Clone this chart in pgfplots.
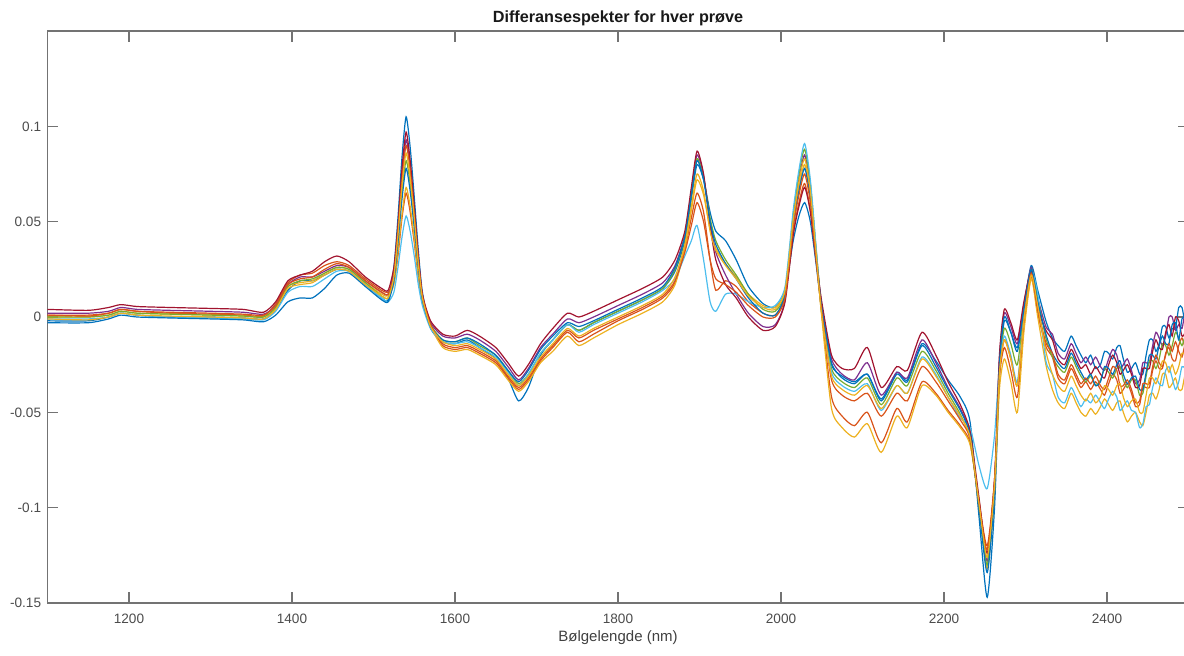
\documentclass[border=0pt]{standalone}
\usepackage{fontspec}
\setmainfont{Liberation Sans}
\usepackage{pgfplots}
\usepackage{pgfplotstable}
\pgfplotsset{compat=1.18}
\definecolor{mB}{rgb}{0,0.447,0.741}
\definecolor{mO}{rgb}{0.85,0.325,0.098}
\definecolor{mY}{rgb}{0.929,0.694,0.125}
\definecolor{mP}{rgb}{0.494,0.184,0.556}
\definecolor{mG}{rgb}{0.466,0.674,0.188}
\definecolor{mL}{rgb}{0.301,0.745,0.933}
\definecolor{mR}{rgb}{0.635,0.078,0.184}
\pgfplotstableread{
x s1 s2 s3 s4 s5 s6 s7 s8 s9 s10
1100 -0.002 0.001 0.000 0.002 0.000 -0.001 0.004 -0.003 0.001 -0.001
1150 -0.002 0.001 0.000 0.002 0.000 -0.001 0.0035 -0.003 0.0005 -0.0015
1175 0.000 0.002 0.001 0.003 0.001 0.000 0.005 -0.001 0.002 0.000
1190 0.002 0.004 0.003 0.005 0.003 0.002 0.0065 0.001 0.004 0.002
1210 0.001 0.003 0.002 0.004 0.002 0.001 0.0055 0.000 0.003 0.001
1250 0.000 0.002 0.0015 0.0035 0.0015 0.000 0.005 -0.0005 0.0025 0.0005
1300 0.000 0.0015 0.001 0.003 0.001 -0.0005 0.0045 -0.001 0.002 0.000
1340 -0.0005 0.001 0.0005 0.0025 0.0005 -0.001 0.004 -0.0015 0.0015 -0.0005
1365 -0.001 0.0005 0.000 0.0015 0.000 -0.0015 0.0025 -0.0025 0.001 -0.001
1380 0.004 0.007 0.005 0.006 0.005 0.003 0.008 0.001 0.006 0.004
1395 0.014 0.018 0.016 0.017 0.016 0.013 0.019 0.008 0.017 0.015
1410 0.019 0.022 0.018 0.021 0.019 0.016 0.022 0.010 0.020 0.017
1425 0.019 0.023 0.019 0.021 0.020 0.016 0.024 0.010 0.021 0.018
1440 0.022 0.027 0.023 0.024 0.023 0.020 0.029 0.015 0.025 0.022
1455 0.025 0.029 0.026 0.027 0.026 0.024 0.032 0.022 0.028 0.025
1470 0.024 0.027 0.025 0.026 0.025 0.024 0.029 0.023 0.026 0.024
1490 0.017 0.020 0.018 0.019 0.018 0.017 0.021 0.016 0.019 0.017
1510 0.010 0.014 0.012 0.013 0.011 0.010 0.015 0.009 0.013 0.011
1518 0.009 0.013 0.011 0.012 0.010 0.008 0.014 0.008 0.012 0.010
1525 0.026 0.018 0.017 0.023 0.020 0.013 0.026 0.019 0.022 0.021
1530 0.052 0.032 0.034 0.046 0.041 0.026 0.048 0.039 0.045 0.043
1535 0.084 0.052 0.054 0.074 0.066 0.042 0.078 0.062 0.072 0.069
1540 0.105 0.065 0.068 0.093 0.082 0.053 0.097 0.078 0.090 0.086
1545 0.089 0.055 0.058 0.079 0.070 0.045 0.082 0.066 0.077 0.073
1550 0.063 0.039 0.041 0.056 0.049 0.032 0.058 0.047 0.054 0.052
1555 0.035 0.021 0.022 0.031 0.027 0.017 0.032 0.026 0.030 0.028
1560 0.013 0.008 0.008 0.011 0.010 0.006 0.012 0.009 0.011 0.010
1570 -0.006 -0.004 -0.005 -0.003 -0.004 -0.006 -0.002 -0.005 -0.004 -0.005
1585 -0.013 -0.015 -0.016 -0.010 -0.012 -0.013 -0.009 -0.012 -0.014 -0.013
1600 -0.014 -0.017 -0.018 -0.011 -0.013 -0.014 -0.010 -0.013 -0.016 -0.015
1615 -0.012 -0.016 -0.017 -0.009 -0.011 -0.013 -0.007 -0.011 -0.015 -0.014
1630 -0.016 -0.019 -0.020 -0.012 -0.015 -0.016 -0.010 -0.014 -0.018 -0.017
1650 -0.022 -0.024 -0.025 -0.018 -0.020 -0.021 -0.016 -0.020 -0.023 -0.022
1665 -0.032 -0.032 -0.033 -0.026 -0.028 -0.029 -0.024 -0.028 -0.031 -0.030
1678 -0.044 -0.038 -0.039 -0.033 -0.035 -0.036 -0.031 -0.034 -0.037 -0.036
1690 -0.037 -0.033 -0.034 -0.027 -0.030 -0.030 -0.025 -0.028 -0.032 -0.031
1705 -0.020 -0.023 -0.024 -0.016 -0.019 -0.019 -0.014 -0.017 -0.022 -0.021
1720 -0.012 -0.016 -0.018 -0.009 -0.012 -0.012 -0.006 -0.010 -0.015 -0.014
1738 -0.004 -0.008 -0.010 -0.001 -0.004 -0.004 0.002 -0.003 -0.007 -0.006
1752 -0.007 -0.013 -0.015 -0.003 -0.007 -0.008 0.000 -0.005 -0.011 -0.010
1770 -0.003 -0.009 -0.011 0.000 -0.003 -0.004 0.003 -0.002 -0.007 -0.006
1800 0.003 -0.002 -0.004 0.006 0.003 0.002 0.009 0.004 -0.001 0.000
1830 0.009 0.004 0.002 0.012 0.009 0.008 0.015 0.010 0.005 0.006
1855 0.015 0.010 0.008 0.018 0.015 0.014 0.021 0.016 0.011 0.012
1870 0.024 0.018 0.017 0.027 0.025 0.020 0.030 0.026 0.019 0.021
1882 0.040 0.036 0.036 0.043 0.042 0.032 0.045 0.042 0.034 0.038
1890 0.062 0.052 0.056 0.066 0.064 0.040 0.068 0.064 0.048 0.058
1897 0.080 0.065 0.072 0.085 0.083 0.048 0.087 0.082 0.060 0.075
1905 0.072 0.055 0.064 0.074 0.073 0.030 0.075 0.072 0.050 0.066
1913 0.055 0.030 0.046 0.050 0.052 0.008 0.048 0.050 0.030 0.045
1920 0.045 0.014 0.036 0.034 0.040 0.003 0.030 0.038 0.020 0.035
1932 0.040 0.019 0.028 0.022 0.030 0.012 0.017 0.028 0.017 0.027
1945 0.030 0.016 0.021 0.012 0.022 0.012 0.010 0.020 0.013 0.020
1960 0.016 0.008 0.012 0.002 0.012 0.008 0.000 0.010 0.006 0.011
1978 0.007 0.002 0.006 -0.005 0.004 0.005 -0.007 0.002 0.000 0.005
1993 0.005 0.001 0.005 -0.004 0.003 0.006 -0.005 0.001 0.000 0.004
2005 0.014 0.011 0.014 0.009 0.013 0.016 0.008 0.012 0.010 0.014
2015 0.040 0.044 0.050 0.052 0.054 0.056 0.043 0.048 0.047 0.051
2022 0.053 0.060 0.068 0.072 0.075 0.077 0.058 0.066 0.064 0.071
2029 0.060 0.070 0.080 0.085 0.088 0.091 0.068 0.078 0.075 0.083
2036 0.050 0.056 0.064 0.068 0.070 0.072 0.055 0.062 0.060 0.066
2043 0.028 0.030 0.033 0.035 0.036 0.037 0.030 0.032 0.031 0.034
2050 0.004 0.002 0.000 0.006 0.004 0.002 0.008 0.005 0.003 0.001
2062 -0.025 -0.042 -0.048 -0.022 -0.027 -0.029 -0.020 -0.024 -0.033 -0.031
2075 -0.031 -0.052 -0.058 -0.030 -0.034 -0.036 -0.027 -0.032 -0.041 -0.038
2090 -0.034 -0.057 -0.063 -0.033 -0.037 -0.039 -0.027 -0.035 -0.044 -0.041
2106 -0.030 -0.050 -0.056 -0.024 -0.032 -0.035 -0.016 -0.030 -0.040 -0.036
2123 -0.043 -0.066 -0.071 -0.041 -0.046 -0.049 -0.037 -0.044 -0.052 -0.048
2142 -0.029 -0.048 -0.052 -0.029 -0.032 -0.036 -0.026 -0.030 -0.040 -0.036
2155 -0.033 -0.055 -0.058 -0.032 -0.036 -0.040 -0.028 -0.034 -0.044 -0.040
2173 -0.014 -0.034 -0.036 -0.012 -0.018 -0.021 -0.008 -0.015 -0.026 -0.022
2190 -0.023 -0.040 -0.041 -0.024 -0.028 -0.030 -0.020 -0.026 -0.034 -0.031
2205 -0.033 -0.049 -0.050 -0.037 -0.040 -0.042 -0.034 -0.038 -0.044 -0.042
2220 -0.042 -0.057 -0.058 -0.048 -0.051 -0.053 -0.046 -0.049 -0.054 -0.052
2232 -0.055 -0.066 -0.067 -0.061 -0.064 -0.058 -0.060 -0.062 -0.064 -0.063
2243 -0.105 -0.097 -0.096 -0.098 -0.100 -0.078 -0.095 -0.100 -0.098 -0.098
2253 -0.147 -0.120 -0.132 -0.128 -0.130 -0.090 -0.124 -0.134 -0.122 -0.126
2262 -0.100 -0.085 -0.092 -0.088 -0.090 -0.062 -0.085 -0.092 -0.086 -0.088
2268 -0.030 -0.032 -0.038 -0.022 -0.028 -0.025 -0.020 -0.025 -0.030 -0.030
2274 -0.002 -0.016 -0.022 0.002 -0.006 -0.010 0.004 0.000 -0.012 -0.012
2282 -0.008 -0.028 -0.034 -0.005 -0.014 -0.020 -0.003 -0.008 -0.022 -0.022
2290 -0.016 -0.042 -0.050 -0.014 -0.025 -0.034 -0.012 -0.018 -0.036 -0.036
2298 0.005 -0.005 -0.008 0.006 0.003 0.000 0.008 0.004 -0.002 -0.002
2307 0.027 0.021 0.020 0.026 0.025 0.024 0.024 0.025 0.023 0.022
2315 0.014 0.002 0.000 0.010 0.010 0.012 0.005 0.008 0.004 0.006
2325 -0.002 -0.0155 -0.025 -0.005 -0.011 -0.023 -0.007 -0.009 -0.0135 -0.018
2333 -0.011 -0.021 -0.038 -0.009 -0.021 -0.030 -0.012 -0.019 -0.019 -0.030
2340 -0.015 -0.032 -0.045 -0.019 -0.026 -0.042 -0.022 -0.024 -0.030 -0.036
2348 -0.018 -0.035 -0.048 -0.022 -0.029 -0.045 -0.025 -0.027 -0.033 -0.039
2356 -0.010 -0.027 -0.040 -0.014 -0.021 -0.037 -0.017 -0.019 -0.025 -0.031
2362 -0.015 -0.032 -0.045 -0.019 -0.026 -0.042 -0.022 -0.024 -0.030 -0.036
2368 -0.020 -0.037 -0.050 -0.024 -0.031 -0.047 -0.027 -0.029 -0.035 -0.041
2374 -0.024 -0.034 -0.052 -0.021 -0.034 -0.043 -0.025 -0.033 -0.032 -0.044
2380 -0.020 -0.038 -0.048 -0.025 -0.031 -0.045 -0.030 -0.030 -0.035 -0.040
2386 -0.027 -0.034 -0.051 -0.021 -0.036 -0.041 -0.026 -0.036 -0.031 -0.045
2392 -0.025 -0.038 -0.047 -0.026 -0.033 -0.045 -0.030 -0.034 -0.036 -0.042
2397 -0.018 -0.041 -0.043 -0.028 -0.027 -0.048 -0.032 -0.026 -0.038 -0.036
2402 -0.019 -0.035 -0.046 -0.022 -0.029 -0.043 -0.025 -0.027 -0.032 -0.038
2407 -0.022 -0.030 -0.049 -0.017 -0.032 -0.039 -0.020 -0.030 -0.026 -0.041
2412 -0.016 -0.033 -0.045 -0.020 -0.027 -0.042 -0.024 -0.025 -0.028 -0.036
2416 -0.015 -0.040 -0.044 -0.027 -0.026 -0.049 -0.030 -0.023 -0.036 -0.035
2420 -0.022 -0.038 -0.050 -0.025 -0.033 -0.047 -0.028 -0.030 -0.036 -0.042
2425 -0.029 -0.035 -0.055 -0.022 -0.037 -0.044 -0.025 -0.035 -0.033 -0.047
2430 -0.027 -0.040 -0.052 -0.028 -0.033 -0.049 -0.030 -0.032 -0.038 -0.044
2435 -0.024 -0.047 -0.050 -0.035 -0.033 -0.050 -0.037 -0.031 -0.045 -0.043
2440 -0.030 -0.046 -0.055 -0.033 -0.041 -0.058 -0.036 -0.038 -0.044 -0.050
2444 -0.030 -0.037 -0.057 -0.024 -0.040 -0.056 -0.027 -0.038 -0.035 -0.050
2448 -0.020 -0.037 -0.050 -0.024 -0.031 -0.047 -0.027 -0.029 -0.035 -0.041
2452 -0.012 -0.037 -0.041 -0.024 -0.023 -0.046 -0.027 -0.020 -0.035 -0.032
2456 -0.012 -0.028 -0.040 -0.015 -0.023 -0.037 -0.018 -0.020 -0.026 -0.032
2460 -0.018 -0.023 -0.043 -0.008 -0.027 -0.032 -0.012 -0.022 -0.020 -0.035
2464 -0.014 -0.027 -0.038 -0.011 -0.022 -0.035 -0.016 -0.015 -0.024 -0.030
2468 -0.005 -0.027 -0.030 -0.015 -0.014 -0.036 -0.017 -0.010 -0.026 -0.023
2472 -0.005 -0.019 -0.030 -0.010 -0.015 -0.028 -0.008 -0.014 -0.020 -0.024
2476 -0.011 -0.016 -0.037 0.000 -0.020 -0.026 -0.004 -0.014 -0.014 -0.029
2480 -0.006 -0.022 -0.035 0.000 -0.015 -0.032 -0.010 -0.004 -0.018 -0.025
2484 -0.006 -0.023 -0.032 -0.007 -0.008 -0.038 0.000 -0.003 -0.013 -0.030
2488 0.005 -0.015 -0.038 -0.004 -0.011 -0.034 -0.002 -0.012 -0.018 -0.026
2492 0.005 -0.011 -0.038 -0.006 -0.015 -0.026 -0.010 -0.001 -0.021 -0.019
2496 -0.004 -0.016 -0.030 0.002 -0.010 -0.027 -0.008 0.000 -0.014 -0.020
2500 -0.010 -0.014 -0.032 -0.006 -0.012 -0.028 0.000 -0.006 -0.016 -0.024
}\spec
\begin{document}
\begin{tikzpicture}
\begin{axis}[
  at={(0pt,0pt)}, anchor=south west,
  scale only axis, width=570.5pt, height=286pt,
  xmin=1100, xmax=2500, ymin=-0.15, ymax=0.15,
  xtick={1200,1400,1600,1800,2000,2200,2400},
  xticklabels={1200,1400,1600,1800,2000,2200,2400},
  ytick={-0.15,-0.1,-0.05,0,0.05,0.1},
  yticklabels={-0.15,-0.1,-0.05,0,0.05,0.1},
  tick align=inside, major tick length=5.5pt,
  axis line style={black!55, line width=0.6pt},
  every tick/.style={black!55, line width=0.6pt},
  tick label style={font=\fontsize{6.8}{8}\selectfont, text=black!70, inner sep=0pt},
  xticklabel style={anchor=base, yshift=-10pt},
  yticklabel style={anchor=east, xshift=-3pt},
  clip=true,
  every axis plot/.append style={line width=0.6pt, mark=none, smooth, tension=0.4},
]
\addplot[mB] table[x=x,y=s1]{\spec};
\addplot[mO] table[x=x,y=s2]{\spec};
\addplot[mY] table[x=x,y=s3]{\spec};
\addplot[mP] table[x=x,y=s4]{\spec};
\addplot[mG] table[x=x,y=s5]{\spec};
\addplot[mL] table[x=x,y=s6]{\spec};
\addplot[mR] table[x=x,y=s7]{\spec};
\addplot[mB] table[x=x,y=s8]{\spec};
\addplot[mO] table[x=x,y=s9]{\spec};
\addplot[mY] table[x=x,y=s10]{\spec};
\end{axis}
\node[anchor=base, font=\bfseries\fontsize{8.1}{9}\selectfont, text=black!90] at (285.25pt,290.2pt) {Differansespekter for hver prøve};
\node[anchor=base, font=\fontsize{7.5}{9}\selectfont, text=black!75] at (285.25pt,-19pt) {Bølgelengde (nm)};
\pgfresetboundingbox
\path[use as bounding box] (-23.75pt,-26pt) rectangle (568.25pt,301.5pt);
\end{tikzpicture}
\end{document}
